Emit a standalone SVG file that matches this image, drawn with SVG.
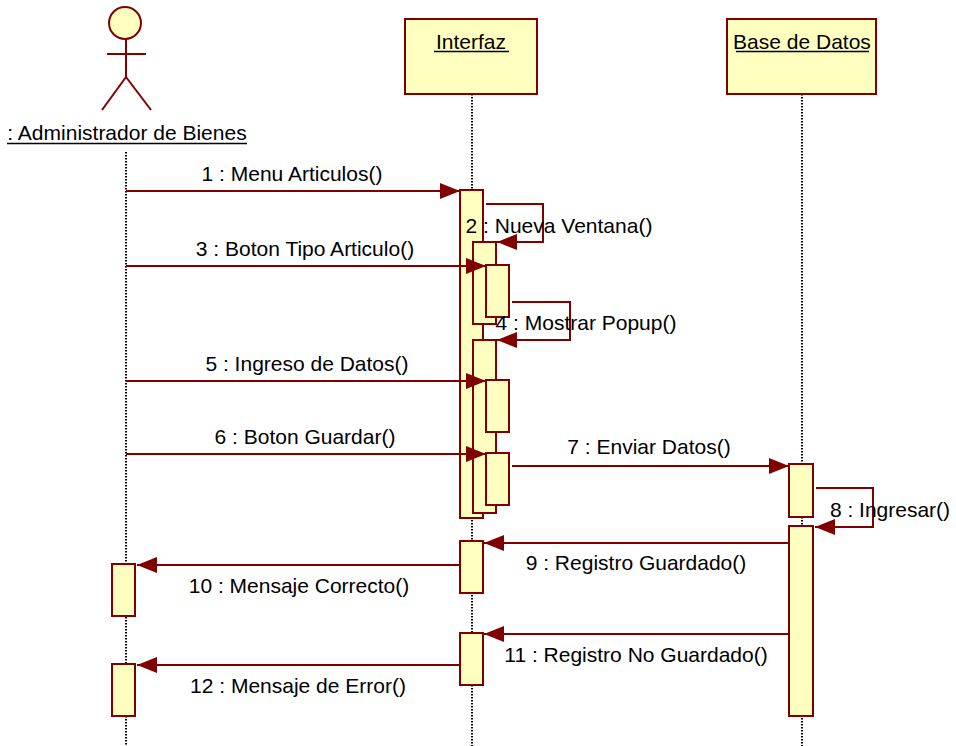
<svg xmlns="http://www.w3.org/2000/svg" width="956" height="746" viewBox="0 0 956 746">
<style>
  .box { fill: #ffffc0; stroke: #800000; stroke-width: 2; }
  .act { fill: #ffffc0; stroke: #800000; stroke-width: 2; }
  .life { stroke: #000; stroke-width: 2; stroke-dasharray: 1.5 1.5; fill: none; }
  .fig { stroke: #800000; stroke-width: 2; fill: none; }
  .msg { stroke: #800000; stroke-width: 2; fill: none; }
  .ul { stroke: #000; stroke-width: 1.3; }
  text { font-family: "Liberation Sans", Arial, sans-serif; font-size: 21px; fill: #000; }
  .lbl { text-anchor: middle; }
</style>
<defs>
  <marker id="arrow" markerUnits="userSpaceOnUse" markerWidth="20" markerHeight="16" refX="20" refY="8" orient="auto">
    <path d="M0,0 L20,8 L0,16 Z" fill="#800000"/>
  </marker>
</defs>
<rect width="956" height="746" fill="#fff"/>

<g id="admin">
  <line class="life" x1="126" y1="152" x2="126" y2="746"/>
  <circle cx="125" cy="23" r="16" fill="#ffffc0" stroke="#800000" stroke-width="2"/>
  <line class="fig" x1="126" y1="39" x2="126" y2="77"/>
  <line class="fig" x1="107" y1="54" x2="146" y2="54"/>
  <line class="fig" x1="126" y1="77" x2="102" y2="110"/>
  <line class="fig" x1="126" y1="77" x2="151" y2="110"/>
  <text class="lbl" x="127" y="140">: Administrador de Bienes</text>
  <line class="ul" x1="7" y1="143.5" x2="247" y2="143.5"/>
  <rect class="act" x="112" y="564" width="23" height="52"/>
  <rect class="act" x="112" y="664" width="23" height="52"/>
</g>

<g id="interfaz">
  <line class="life" x1="472" y1="94" x2="472" y2="746"/>
  <rect class="box" x="405" y="19" width="132" height="75"/>
  <text class="lbl" x="471" y="49">Interfaz</text>
  <line class="ul" x1="434" y1="51.5" x2="509" y2="51.5"/>
  <rect class="act" x="460" y="190" width="23" height="328"/>
  <rect class="act" x="473" y="242" width="23" height="82"/>
  <rect class="act" x="486" y="265" width="23" height="52"/>
  <rect class="act" x="473" y="340" width="23" height="173"/>
  <rect class="act" x="486" y="380" width="23" height="52"/>
  <rect class="act" x="486" y="453" width="23" height="52"/>
  <rect class="act" x="460" y="541" width="23" height="52"/>
  <rect class="act" x="460" y="633" width="23" height="52"/>
</g>

<g id="base-de-datos">
  <line class="life" x1="802" y1="94" x2="802" y2="746"/>
  <rect class="box" x="727" y="19" width="149" height="75"/>
  <text class="lbl" x="802" y="49">Base de Datos</text>
  <line class="ul" x1="736" y1="51.5" x2="869" y2="51.5"/>
  <rect class="act" x="789" y="464" width="24" height="53"/>
  <rect class="act" x="789" y="526" width="24" height="190"/>
</g>

<g id="connectors">
  <line class="msg" x1="126" y1="191" x2="460" y2="191" marker-end="url(#arrow)"/>
  <polyline class="msg" points="486,204 543,204 543,242 497,242" marker-end="url(#arrow)"/>
  <line class="msg" x1="126" y1="266" x2="486" y2="266" marker-end="url(#arrow)"/>
  <polyline class="msg" points="512,302 570,302 570,340 497,340" marker-end="url(#arrow)"/>
  <line class="msg" x1="126" y1="381" x2="486" y2="381" marker-end="url(#arrow)"/>
  <line class="msg" x1="126" y1="454" x2="486" y2="454" marker-end="url(#arrow)"/>
  <line class="msg" x1="512" y1="466" x2="789" y2="466" marker-end="url(#arrow)"/>
  <polyline class="msg" points="816,488 873,488 873,527 815,527" marker-end="url(#arrow)"/>
  <line class="msg" x1="789" y1="543" x2="484" y2="543" marker-end="url(#arrow)"/>
  <line class="msg" x1="459" y1="565" x2="137" y2="565" marker-end="url(#arrow)"/>
  <line class="msg" x1="789" y1="634" x2="484" y2="634" marker-end="url(#arrow)"/>
  <line class="msg" x1="459" y1="665" x2="137" y2="665" marker-end="url(#arrow)"/>

  <text class="lbl" x="292" y="181">1 : Menu Articulos()</text>
  <text class="lbl" x="559" y="233">2 : Nueva Ventana()</text>
  <text class="lbl" x="305" y="256">3 : Boton Tipo Articulo()</text>
  <text class="lbl" x="586" y="330">4 : Mostrar Popup()</text>
  <text class="lbl" x="307" y="371">5 : Ingreso de Datos()</text>
  <text class="lbl" x="305" y="444">6 : Boton Guardar()</text>
  <text class="lbl" x="649" y="454">7 : Enviar Datos()</text>
  <text class="lbl" x="890" y="517">8 : Ingresar()</text>
  <text class="lbl" x="636" y="570">9 : Registro Guardado()</text>
  <text class="lbl" x="299" y="593">10 : Mensaje Correcto()</text>
  <text class="lbl" x="636" y="662">11 : Registro No Guardado()</text>
  <text class="lbl" x="298" y="693">12 : Mensaje de Error()</text>
</g>
</svg>
